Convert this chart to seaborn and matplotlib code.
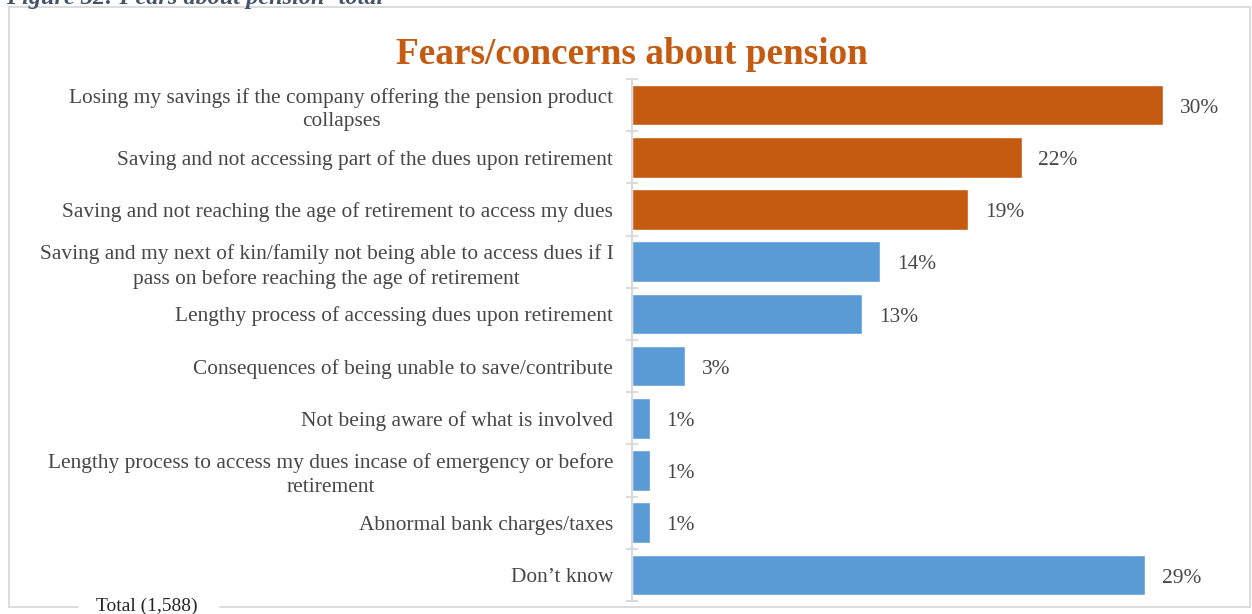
import matplotlib
matplotlib.use("Agg")
import matplotlib.pyplot as plt
from matplotlib.lines import Line2D
from matplotlib.ticker import FixedLocator
import seaborn as sns
import pandas as pd

categories = [
    "Losing my savings if the company offering the pension product\ncollapses",
    "Saving and not accessing part of the dues upon retirement",
    "Saving and not reaching the age of retirement to access my dues",
    "Saving and my next of kin/family not being able to access dues if I\npass on before reaching the age of retirement",
    "Lengthy process of accessing dues upon retirement",
    "Consequences of being unable to save/contribute",
    "Not being aware of what is involved",
    "Lengthy process to access my dues incase of emergency or before\nretirement",
    "Abnormal bank charges/taxes",
    "Don\u2019t know",
]
values = [30, 22, 19, 14, 13, 3, 1, 1, 1, 29]
top_three = [True, True, True, False, False, False, False, False, False, False]

ORANGE = "#C55A11"
BLUE = "#5B9BD5"
GRID = "#D9D9D9"
TEXT = "#474747"

df = pd.DataFrame({"category": categories, "value": values})
colors = [ORANGE if t else BLUE for t in top_three]

sns.set_style("white")
plt.rcParams["font.family"] = ["Liberation Serif", "DejaVu Serif"]

W, H = 1252, 614
fig = plt.figure(figsize=(W / 100, H / 100), dpi=100)
ax = fig.add_axes([632 / W, 1 - 601 / H, (1234 - 632) / W, (601 - 79) / H])

sns.barplot(data=df, x="value", y="category", hue="category", palette=colors,
            legend=False, width=0.78, saturation=1, ax=ax)

ax.set_xlim(0, 34)
ax.set_ylim(len(categories) - 0.5, -0.5)
ax.set_xlabel("")
ax.set_ylabel("")
ax.set_xticks([])

for s in ["top", "right", "bottom"]:
    ax.spines[s].set_visible(False)
ax.spines["left"].set_color(GRID)
ax.spines["left"].set_linewidth(1.5)

# category boundaries as small cross ticks on the axis
ax.yaxis.set_minor_locator(FixedLocator([i - 0.5 for i in range(len(categories) + 1)]))
ax.tick_params(axis="y", which="minor", direction="inout", length=8.5, width=1.3, color=GRID, left=True)
ax.tick_params(axis="y", which="major", length=0, pad=13.5, labelsize=15.4, labelcolor=TEXT)
for lbl in ax.get_yticklabels():
    lbl.set_multialignment("center")
    lbl.set_linespacing(1.3)

for i, v in enumerate(values):
    ax.text(v + 0.95, i + 0.06, f"{v}%", va="center", ha="left", fontsize=15.4, color=TEXT)

fig.text(632 / W, 1 - 54 / H, "Fears/concerns about pension", ha="center", va="center",
         fontsize=26.8, fontweight="bold", color=ORANGE)

# caption above the chart frame
fig.text(6 / W, 1 - 4 / H, "Figure 32: Fears about pension -total", ha="left", va="baseline",
         fontsize=17.5, fontweight="bold", fontstyle="italic", color="#44546A")

# chart frame with a gap for the series label on the bottom edge
L, R, T, B = 8.5 / W, 1249.5 / W, 1 - 6.5 / H, 1 - 606.5 / H
lw = 1.3
for xs, ys in [([L, R], [T, T]), ([L, L], [T, B]), ([R, R], [T, B]),
               ([L, 78 / W], [B, B]), ([220 / W, R], [B, B])]:
    fig.add_artist(Line2D(xs, ys, color=GRID, lw=lw, transform=fig.transFigure))
fig.text(147 / W, B, "Total (1,588)", ha="center", va="center", fontsize=14, color="#262626")

fig.savefig("out.png", dpi=100)
